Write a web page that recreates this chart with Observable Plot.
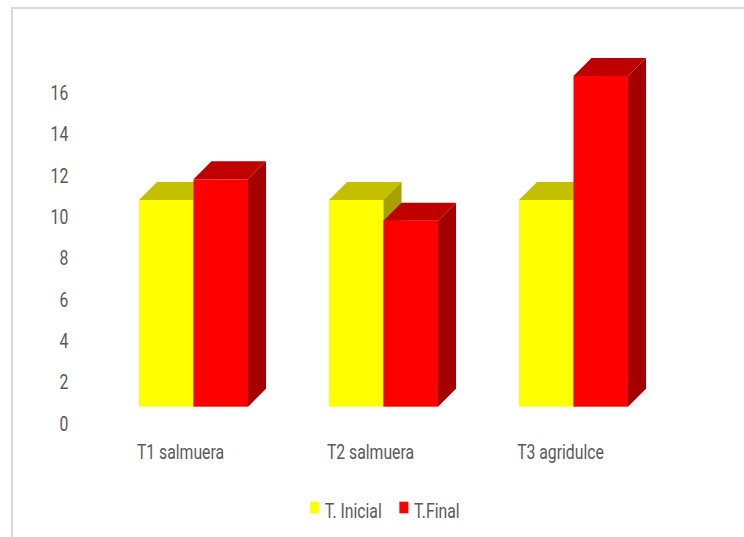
<!DOCTYPE html>
<html>
<head>
<meta charset="utf-8">
<script src="https://cdn.jsdelivr.net/npm/d3@7"></script>
<script src="https://cdn.jsdelivr.net/npm/@observablehq/plot@0.6"></script>
<style>
  body { margin: 0; background: #fff; }
  #wrap { position: relative; width: 744px; height: 537px; overflow: hidden; background: #fff;
          font-family: Roboto, "Noto Sans", sans-serif; }
  #frame { position: absolute; left: 11px; top: 7px; width: 900px; height: 700px;
           border-left: 2px solid #d9d9d9; border-top: 2px solid #d9d9d9; }
  #chart { position: absolute; left: 0; top: 0; }
  #legend { position: absolute; left: 0; top: 490px; }
</style>
</head>
<body>
<div id="wrap">
  <div id="frame"></div>
  <div id="chart"></div>
  <div id="legend"></div>
</div>
<script>
const categories = ["T1 salmuera", "T2 salmuera", "T3 agridulce"];
const inicial = [10, 10, 10];
const final = [11, 9, 16];
const seriesNames = ["T. Inicial", "T.Final"];
const yTicks = [0, 2, 4, 6, 8, 10, 12, 14, 16];

const seriesColors = [
  {front: "#ffff00", top: "#c4c000", side: "#a6a100"},
  {front: "#ff0000", top: "#c00000", side: "#a50000"}
];

const DEPTH = 18;
const SQUEEZE = 0.75;   // narrow (Calibri-like) text look
const FONT = 'Roboto, "Noto Sans", sans-serif';
const TEXT = "#595959";

function squeeze(root) {
  root.querySelectorAll("text").forEach(t => {
    const w = t.getComputedTextLength();
    if (w > 0) {
      t.setAttribute("textLength", w * SQUEEZE);
      t.setAttribute("lengthAdjust", "spacingAndGlyphs");
    }
  });
}

function bars3d(values, colors, j) {
  return (index, scales) => {
    const x = scales.x, y = scales.y;
    const half = x.bandwidth() / 2;
    const g = d3.create("svg:g");
    categories.forEach((c, i) => {
      const xl = x(c) + j * half, xr = xl + half;
      const yt = y(values[i]), yb = y(0);
      g.append("rect")
        .attr("x", xl).attr("y", yt).attr("width", half).attr("height", yb - yt)
        .attr("fill", colors.front);
      g.append("path")
        .attr("d", `M${xl},${yt}L${xl + DEPTH},${yt - DEPTH}L${xr + DEPTH},${yt - DEPTH}L${xr},${yt}Z`)
        .attr("fill", colors.top);
      g.append("path")
        .attr("d", `M${xr},${yt}L${xr + DEPTH},${yt - DEPTH}L${xr + DEPTH},${yb - DEPTH}L${xr},${yb}Z`)
        .attr("fill", colors.side);
    });
    return g.node();
  };
}

const chart = Plot.plot({
  width: 744,
  height: 490,
  marginLeft: 56.8,
  marginRight: 33.2,
  marginTop: 76,
  marginBottom: 83.3,
  x: {type: "band", domain: categories, padding: 0.427},
  y: {domain: [0, 16]},
  style: {
    fontFamily: FONT,
    fontSize: "21px",
    color: TEXT,
    background: "transparent",
    overflow: "visible"
  },
  marks: [
    bars3d(inicial, seriesColors[0], 0),
    bars3d(final, seriesColors[1], 1),
    Plot.axisY(yTicks, {tickSize: 0, tickPadding: 0, dx: 11, dy: 16.6, fill: TEXT, fontSize: 21, label: null}),
    Plot.axisX({tickSize: 0, tickPadding: 0, dx: -13.5, dy: 36.7, fill: TEXT, fontSize: 21, label: null})
  ]
});
document.getElementById("chart").appendChild(chart);
squeeze(chart);

// legend (below the plot SVG)
const lsvg = d3.select("#legend").append("svg")
  .attr("width", 744).attr("height", 47)
  .style("font-family", FONT).style("font-size", "21px");
let lx = 310;
seriesNames.forEach((name, j) => {
  lsvg.append("rect")
    .attr("x", lx).attr("y", 11.7).attr("width", 9).attr("height", 11.6)
    .attr("fill", seriesColors[j].front);
  const t = lsvg.append("text")
    .attr("x", lx + 14.7).attr("y", 27.5)
    .attr("fill", TEXT).text(name);
  const w = t.node().getComputedTextLength() * SQUEEZE;
  t.attr("textLength", w).attr("lengthAdjust", "spacingAndGlyphs");
  lx += 14.7 + w + 17.6;
});
</script>
</body>
</html>
